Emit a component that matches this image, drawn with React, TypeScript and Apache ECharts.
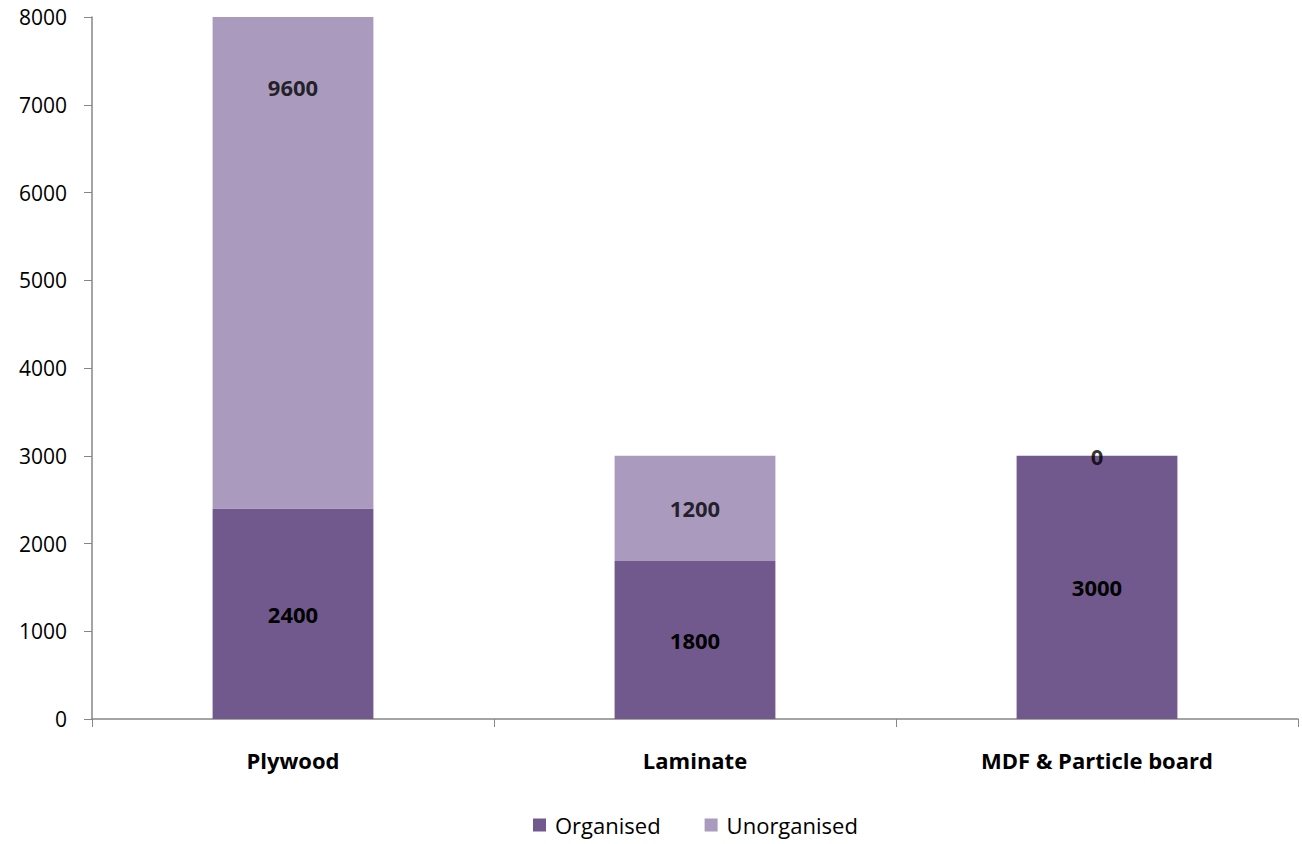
import React, { useEffect, useRef } from "react";
import * as echarts from "echarts";

const categories = ["Plywood", "Laminate", "MDF & Particle board"];
const organised = [2400, 1800, 3000];
const unorganised = [9600, 1200, 0];
const yTicks = [0, 1000, 2000, 3000, 4000, 5000, 6000, 7000, 8000];

const FONT = "'Open Sans', 'Noto Sans', sans-serif";
const ORG_COLOR = "#72598D";
const UNORG_COLOR = "#A99ABE";
const AXIS_COLOR = "#868686";

export default function App() {
  const ref = useRef<HTMLDivElement>(null);

  useEffect(() => {
    if (!ref.current) return;
    const chart = echarts.init(ref.current, undefined, { renderer: "svg" });

    // Unorganised labels sit at the middle of the full (uncut) segment.
    const unorgLabelPos = categories.map((_, i) => organised[i] + unorganised[i] / 2);

    const valueLabel = {
      show: true,
      position: "inside",
      fontFamily: FONT,
      fontSize: 22,
      fontWeight: "bold",
      color: "#000",
    };

    chart.setOption({
      animation: false,
      textStyle: { fontFamily: FONT },
      grid: { left: 92, right: 4, top: 17, bottom: 125, containLabel: false },
      legend: {
        data: ["Organised", "Unorganised"],
        bottom: 3,
        left: 528,
        icon: "rect",
        itemWidth: 13,
        itemHeight: 13,
        itemGap: 44,
        textStyle: { fontFamily: FONT, fontSize: 22, color: "#000", padding: [0, 0, 0, 4] },
      },
      xAxis: {
        type: "category",
        data: categories,
        axisLine: { lineStyle: { color: AXIS_COLOR, width: 1.5 } },
        axisTick: { show: true, length: 8, lineStyle: { color: AXIS_COLOR } },
        axisLabel: {
          fontFamily: FONT,
          fontSize: 22,
          fontWeight: "bold",
          color: "#000",
          margin: 30,
        },
      },
      yAxis: {
        type: "value",
        min: yTicks[0],
        max: yTicks[yTicks.length - 1],
        interval: 1000,
        splitLine: { show: false },
        axisLine: { show: true, lineStyle: { color: AXIS_COLOR, width: 1.5 } },
        axisTick: { show: true, length: 8, lineStyle: { color: AXIS_COLOR } },
        axisLabel: {
          fontFamily: FONT,
          fontSize: 21,
          color: "#000",
          margin: 25,
          formatter: (v: number) => String(v),
        },
      },
      series: [
        {
          name: "Organised",
          type: "bar",
          stack: "total",
          barWidth: "40%",
          data: organised,
          itemStyle: { color: ORG_COLOR },
          label: valueLabel,
        },
        {
          name: "Unorganised",
          type: "bar",
          stack: "total",
          barWidth: "40%",
          data: unorganised,
          itemStyle: { color: UNORG_COLOR },
          label: { show: false },
        },
        {
          name: "UnorganisedLabels",
          type: "scatter",
          symbolSize: 0,
          data: unorgLabelPos,
          silent: true,
          label: {
            ...valueLabel,
            formatter: (p: any) => String(unorganised[p.dataIndex]),
          },
        },
      ],
    });

    return () => chart.dispose();
  }, []);

  return (
    <div
      ref={ref}
      style={{ position: "fixed", left: 0, top: 0, width: 1302, height: 844, background: "#fff" }}
    />
  );
}
